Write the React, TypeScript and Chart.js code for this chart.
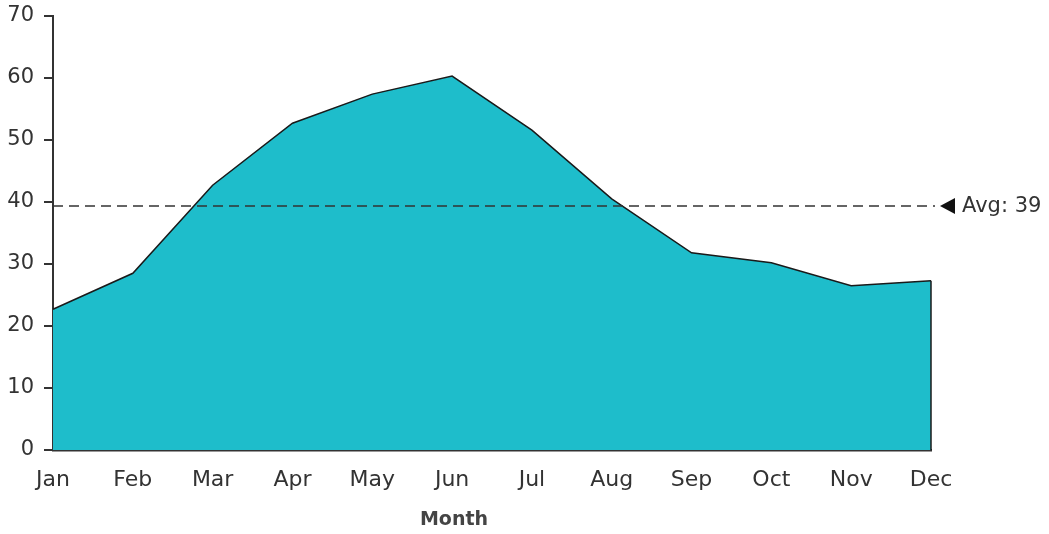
import React, { useEffect, useRef } from "react";
import { Chart, registerables } from "chart.js";

Chart.register(...registerables);

const months = ["Jan", "Feb", "Mar", "Apr", "May", "Jun", "Jul", "Aug", "Sep", "Oct", "Nov", "Dec"];
const values = [22.7, 28.5, 42.7, 52.7, 57.4, 60.3, 51.6, 40.5, 31.8, 30.2, 26.5, 27.3];
const yTicks = [0, 10, 20, 30, 40, 50, 60, 70];
const axisTitle = "Month";

const FONT = "'DejaVu Sans', sans-serif";
const INK = "#333";
const FILL = "#1EBDCB";

const average = values.reduce((a, b) => a + b, 0) / values.length;

// Draws the closing right edge of the area, the average line with its marker, and the axis title.
const overlayPlugin = {
  id: "overlay",
  afterDatasetsDraw(chart: any) {
    const { ctx, chartArea, scales } = chart;
    const x = scales.x;
    const y = scales.y;
    ctx.save();

    // right edge of the filled area
    const lastX = x.getPixelForValue(values.length - 1);
    ctx.strokeStyle = "#1a1a1a";
    ctx.lineWidth = 1.5;
    ctx.beginPath();
    ctx.moveTo(lastX, y.getPixelForValue(values[values.length - 1]));
    ctx.lineTo(lastX, y.getPixelForValue(0));
    ctx.stroke();

    // average line
    const ay = y.getPixelForValue(average);
    ctx.strokeStyle = INK;
    ctx.lineWidth = 1.5;
    ctx.setLineDash([10, 6]);
    ctx.beginPath();
    ctx.moveTo(chartArea.left, ay);
    ctx.lineTo(chartArea.right + 4, ay);
    ctx.stroke();
    ctx.setLineDash([]);

    // marker triangle
    const tx = chartArea.right + 9;
    ctx.fillStyle = "#111";
    ctx.beginPath();
    ctx.moveTo(tx, ay);
    ctx.lineTo(tx + 15, ay - 8);
    ctx.lineTo(tx + 15, ay + 8);
    ctx.closePath();
    ctx.fill();

    ctx.font = `21px ${FONT}`;
    ctx.fillStyle = INK;
    ctx.textAlign = "left";
    ctx.textBaseline = "middle";
    ctx.fillText(`Avg: ${Math.round(average)}`, tx + 22, ay + 1);

    // axis title
    ctx.font = `bold 19px ${FONT}`;
    ctx.fillStyle = "#444";
    ctx.textAlign = "center";
    ctx.textBaseline = "middle";
    ctx.fillText(axisTitle, (chartArea.left + chartArea.right) / 2 - 38, chart.height - 14);
    ctx.restore();
  },
};

export default function App() {
  const canvasRef = useRef<HTMLCanvasElement | null>(null);

  useEffect(() => {
    if (!canvasRef.current) return;
    const chart = new Chart(canvasRef.current, {
      type: "line",
      data: {
        labels: months,
        datasets: [
          {
            data: values,
            fill: "origin",
            backgroundColor: FILL,
            borderColor: "#1a1a1a",
            borderWidth: 1.5,
            pointRadius: 0,
            tension: 0,
          },
        ],
      },
      options: {
        animation: false,
        responsive: false,
        maintainAspectRatio: false,
        layout: { padding: { left: 0, right: 118, top: 16, bottom: 0 } },
        plugins: {
          legend: { display: false },
          tooltip: { enabled: false },
        },
        scales: {
          x: {
            type: "category",
            offset: false,
            grid: { display: false, drawTicks: false },
            border: { display: true, color: INK, width: 2.5 },
            ticks: {
              color: INK,
              font: { family: FONT, size: 22 },
              padding: 17,
              maxRotation: 0,
              autoSkip: false,
            },
            afterFit(scale: any) {
              scale.height = 84;
              scale.paddingLeft = 0;
              scale.paddingRight = 0;
            },
          },
          y: {
            min: 0,
            max: 70,
            afterBuildTicks(scale: any) {
              scale.ticks = yTicks.map((v) => ({ value: v }));
            },
            grid: { drawOnChartArea: false, drawTicks: true, tickLength: 9, color: INK, lineWidth: 2 },
            border: { display: true, color: INK, width: 2 },
            ticks: {
              color: INK,
              font: { family: FONT, size: 21 },
              padding: 10,
            },
            afterFit(scale: any) {
              scale.width = 53;
              scale.paddingTop = 0;
              scale.paddingBottom = 0;
            },
          },
        },
      },
      plugins: [overlayPlugin],
    });
    return () => chart.destroy();
  }, []);

  return (
    <div style={{ position: "fixed", left: 0, top: 0, width: 1049, height: 534, background: "#fff" }}>
      <canvas ref={canvasRef} width={1049} height={534} style={{ width: 1049, height: 534 }} />
    </div>
  );
}
